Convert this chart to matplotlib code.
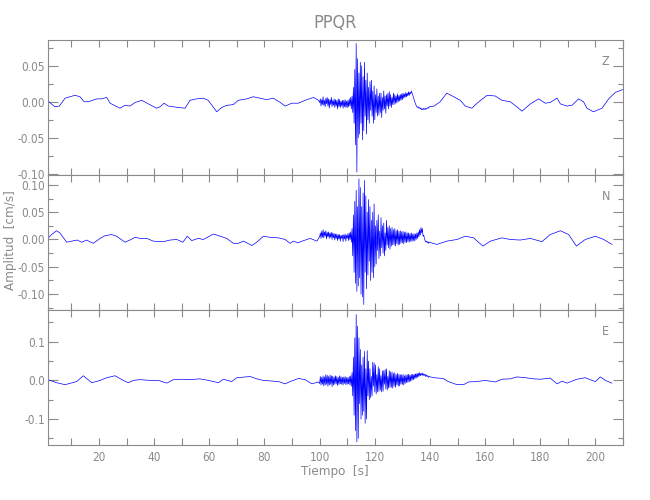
import numpy as np
import matplotlib
matplotlib.use('Agg')
import matplotlib.pyplot as plt
from matplotlib.ticker import MultipleLocator, FormatStrFormatter

plt.rcParams['font.family'] = ['DejaVu Sans']
plt.rcParams['font.stretch'] = 'condensed'
plt.rcParams['axes.unicode_minus'] = False

gray = '#8a8a8a'

# ---- Z component
t_z_pre = [1.5, 4.0, 5.6, 7.7, 11.3, 13.1, 14.6, 16.1, 19.2, 21.0, 22.8, 24.0, 27.6, 29.4, 31.2, 33.1,
           35.5, 37.9, 40.9, 42.1, 43.6, 45.1, 47.0, 48.8, 51.2, 53.0, 55.4, 57.8, 59.6, 62.7, 64.5, 66.3,
           68.7, 70.5, 73.5, 75.9, 78.4, 80.8, 83.2, 85.7, 87.5, 89.9, 92.3, 94.7, 97.8, 99.6]
z_pre = [0.001, -0.007, -0.006, 0.005, 0.009, 0.007, 0.000, 0.000, 0.004, 0.004, 0.006, -0.002, -0.009,
         -0.005, -0.006, -0.001, 0.002, -0.003, -0.009, -0.007, -0.002, -0.006, -0.007, -0.008, -0.009,
         0.002, 0.004, 0.005, 0.002, -0.014, -0.008, -0.005, -0.004, 0.002, 0.004, 0.007, 0.005, 0.003,
         0.005, -0.001, -0.006, -0.002, -0.002, 0.002, 0.006, 0.002]
z_burst = [-0.001, 0.004, -0.006, 0.003, -0.004, 0.007, -0.005, 0.002,
           -0.007, 0.005, -0.003, 0.006, -0.006, 0.004, -0.009, 0.003,
           -0.004, 0.006, -0.007, 0.002, -0.005, 0.004, -0.008, 0.003,
           -0.006, 0.002, -0.010, 0.004, -0.007, 0.003, -0.008, 0.001,
           -0.006, 0.002, -0.009, 0.002, -0.007, 0.003, -0.008, 0.001,
           -0.008, 0.002, -0.007, 0.004, -0.006, 0.006, -0.010, 0.008,
           -0.015, 0.020, -0.030, 0.045, -0.060, 0.081, -0.098, 0.060,
           -0.050, 0.040, -0.045, 0.055, -0.030, 0.050, -0.053, 0.035,
           -0.040, 0.055, -0.020, 0.030, -0.045, 0.040, -0.025, 0.020,
           -0.030, 0.028, -0.012, 0.030, -0.020, 0.015, -0.030, 0.022,
           -0.025, 0.010, -0.015, 0.018, -0.020, 0.008, -0.018, 0.012,
           -0.015, 0.012, -0.022, 0.006, -0.012, 0.015, -0.010, 0.008,
           -0.016, 0.010, -0.006, 0.012, -0.010, 0.014, -0.006, 0.010,
           -0.008, 0.006, -0.004, 0.012, -0.004, 0.010, -0.002, 0.008,
           -0.002, 0.011, 0.000, 0.009, 0.001, 0.010, 0.002, 0.011,
           0.003, 0.012, 0.005, 0.011, 0.006, 0.013, 0.007, 0.012,
           0.008, 0.014, 0.009, 0.013, 0.011, 0.015, 0.012, 0.010,
           0.006, 0.003, 0.000, -0.003, -0.005, -0.007, -0.008, -0.007,
           -0.009, -0.008, -0.010, -0.009, -0.011, -0.010, -0.011, -0.009,
           -0.010, -0.011, -0.009, -0.010, -0.009, -0.008, -0.009, -0.007]
t_z_post = [141.5, 143.7, 146.1, 148.6, 151.0, 152.8, 155.2, 157.1, 160.7, 163.7, 166.1, 169.1, 171.5,
            173.4, 176.4, 179.4, 181.8, 183.6, 186.1, 187.3, 189.7, 191.5, 193.9, 195.7, 196.9, 199.3,
            202.4, 204.8, 207.2, 210.0]
z_post = [-0.006, 0.000, 0.012, 0.007, 0.002, -0.006, -0.009, -0.002, 0.009, 0.008, 0.002, 0.000,
          -0.007, -0.013, -0.003, 0.004, -0.002, -0.001, 0.005, -0.003, -0.006, -0.005, 0.004, 0.000,
          -0.009, -0.014, -0.009, 0.004, 0.013, 0.017]

# ---- N component
t_n_pre = [1.5, 2.8, 4.6, 5.8, 8.3, 10.1, 12.1, 13.7, 15.5, 17.9, 20.4, 22.2, 24.6, 26.4, 29.4, 31.2,
           33.1, 34.9, 37.3, 39.7, 43.3, 45.8, 48.2, 50.4, 52.0, 53.6, 56.0, 57.8, 61.5, 63.9, 66.3,
           68.7, 70.5, 72.4, 75.4, 77.2, 79.6, 82.0, 85.1, 87.5, 89.3, 90.5, 92.1, 94.2, 96.6, 99.0]
n_pre = [0.002, 0.009, 0.016, 0.012, -0.005, -0.003, -0.001, -0.005, -0.001, -0.007, 0.002, 0.007,
         0.009, 0.006, -0.005, -0.001, 0.004, 0.002, 0.002, -0.003, -0.004, -0.001, 0.000, -0.005,
         0.006, -0.002, 0.002, 0.000, 0.010, 0.006, 0.002, -0.007, -0.007, -0.003, -0.011, -0.005,
         0.006, 0.004, 0.003, 0.000, -0.007, -0.003, -0.006, -0.002, 0.002, -0.003]
n_burst = [0.005, 0.012, 0.002, 0.015, 0.004, 0.018, 0.003, 0.014,
           0.006, 0.016, 0.001, 0.013, 0.005, 0.014, 0.002, 0.012,
           0.004, 0.013, 0.000, 0.012, 0.003, 0.011, -0.001, 0.010,
           0.002, 0.010, -0.002, 0.009, 0.001, 0.009, -0.003, 0.008,
           0.002, 0.008, -0.004, 0.009, 0.001, 0.010, -0.003, 0.008,
           0.002, 0.011, -0.002, 0.012, 0.000, 0.014, -0.005, 0.020,
           -0.030, 0.045, -0.060, 0.070, -0.080, 0.090, -0.095, 0.060,
           -0.085, 0.111, -0.070, 0.095, -0.100, 0.060, -0.105, 0.085,
           -0.119, 0.108, -0.060, 0.080, -0.090, 0.050, -0.065, 0.073,
           -0.040, 0.060, -0.075, 0.035, -0.060, 0.050, -0.070, 0.065,
           -0.050, 0.025, -0.045, 0.035, -0.020, 0.045, -0.035, 0.015,
           -0.030, 0.040, -0.015, 0.025, -0.025, 0.030, -0.030, 0.012,
           -0.020, 0.035, -0.010, 0.022, -0.015, 0.025, -0.018, 0.020,
           -0.012, 0.022, -0.010, 0.018, -0.010, 0.020, -0.012, 0.016,
           -0.008, 0.018, -0.010, 0.015, -0.009, 0.016, -0.007, 0.014,
           -0.006, 0.015, -0.008, 0.013, -0.005, 0.014, -0.006, 0.012,
           -0.004, 0.012, -0.005, 0.011, -0.003, 0.012, -0.004, 0.010,
           -0.002, 0.011, -0.003, 0.010, 0.000, 0.012, 0.002, 0.014,
           0.005, 0.018, 0.008, 0.022, 0.012, 0.020, 0.006, 0.008,
           0.002, -0.002, -0.004, -0.003, -0.006, -0.004, -0.007, -0.005]
t_n_post = [142.5, 146.1, 149.8, 152.8, 155.8, 159.2, 161.9, 166.1, 169.1, 172.8, 176.4, 180.6, 183.6,
            187.3, 190.3, 193.1, 196.3, 200.0, 203.0, 206.0]
n_post = [-0.009, -0.003, 0.000, 0.006, 0.003, -0.012, -0.003, 0.003, 0.000, -0.001, 0.002, -0.004,
          0.009, 0.016, 0.009, -0.012, 0.000, 0.006, 0.000, -0.009]

# ---- E component
t_e_pre = [1.5, 4.6, 7.7, 11.9, 14.3, 15.7, 17.4, 20.4, 22.8, 25.8, 28.8, 30.6, 32.4, 34.9, 38.5, 41.5,
           44.6, 47.0, 50.0, 53.0, 56.6, 59.7, 63.3, 65.1, 68.1, 70.0, 74.8, 77.2, 79.6, 83.2, 85.1,
           87.5, 89.3, 92.3, 94.7, 97.2, 99.5]
e_pre = [0.002, -0.006, -0.011, -0.003, 0.012, 0.004, -0.006, 0.000, 0.007, 0.012, 0.000, -0.006,
         0.000, 0.002, 0.000, 0.000, -0.007, 0.002, 0.003, 0.002, 0.004, 0.000, -0.006, 0.003, -0.003,
         0.007, 0.010, 0.004, 0.000, -0.002, -0.003, -0.009, -0.003, 0.005, 0.002, -0.009, -0.004]
e_burst = [-0.008, 0.010, -0.012, 0.008, -0.010, 0.012, -0.014, 0.009,
           -0.012, 0.015, -0.010, 0.013, -0.015, 0.010, -0.012, 0.014,
           -0.010, 0.012, -0.016, 0.011, -0.012, 0.009, -0.010, 0.012,
           -0.009, 0.010, -0.013, 0.008, -0.011, 0.012, -0.009, 0.010,
           -0.010, 0.008, -0.012, 0.009, -0.008, 0.010, -0.011, 0.007,
           -0.010, 0.008, -0.009, 0.010, -0.012, 0.012, -0.015, 0.020,
           -0.040, 0.060, -0.090, 0.110, -0.130, 0.170, -0.159, 0.140,
           -0.150, 0.110, -0.060, 0.080, -0.100, 0.040, -0.090, 0.060,
           -0.080, 0.075, -0.111, 0.030, -0.100, 0.077, -0.040, 0.050,
           -0.050, 0.030, -0.045, 0.010, -0.040, 0.047, -0.015, 0.045,
           -0.030, 0.040, -0.035, 0.015, -0.030, 0.035, -0.028, 0.030,
           -0.025, 0.012, -0.030, 0.025, -0.028, 0.025, -0.010, 0.028,
           -0.022, 0.030, -0.025, 0.010, -0.020, 0.025, -0.018, 0.022,
           -0.018, 0.022, -0.020, 0.018, -0.015, 0.020, -0.018, 0.015,
           -0.012, 0.018, -0.015, 0.016, -0.014, 0.015, -0.010, 0.014,
           -0.010, 0.016, -0.012, 0.012, -0.008, 0.014, -0.006, 0.015,
           -0.005, 0.016, -0.004, 0.014, -0.002, 0.015, 0.000, 0.016,
           0.002, 0.016, 0.004, 0.017, 0.006, 0.018, 0.008, 0.019,
           0.010, 0.020, 0.012, 0.018, 0.014, 0.019, 0.012, 0.017,
           0.013, 0.016, 0.010, 0.014, 0.010, 0.012, 0.008, 0.010]
t_e_post = [141.2, 144.8, 146.6, 149.8, 152.2, 154.0, 157.0, 160.0, 161.9, 163.7, 166.1, 169.1, 171.5,
            174.6, 177.6, 180.0, 183.6, 186.1, 187.9, 189.7, 193.3, 196.3, 198.8, 200.0, 201.8, 203.6,
            206.0]
e_post = [0.007, 0.005, -0.003, -0.011, -0.011, -0.004, -0.003, 0.000, -0.002, -0.004, 0.003, 0.004,
          0.009, 0.007, 0.004, 0.003, 0.006, -0.009, -0.002, -0.007, 0.003, 0.007, 0.000, -0.003, 0.009,
          0.000, -0.007]

# sample times of the dense part (0.25 s)
t_burst = np.arange(100.0, 140.0, 0.25)

comps = ['Z', 'N', 'E']
traces = [(t_z_pre, z_pre, z_burst, t_z_post, z_post),
          (t_n_pre, n_pre, n_burst, t_n_post, n_post),
          (t_e_pre, e_pre, e_burst, t_e_post, e_post)]
ylims = [(-0.102, 0.086), (-0.129, 0.118), (-0.167, 0.182)]
ymaj = [0.05, 0.05, 0.1]
ymin = [0.025, 0.025, 0.05]
yfmt = ['%.2f', '%.2f', '%.1f']

fig = plt.figure(figsize=(6.5, 5), dpi=100)
left, right = 48/650., 623/650.
tops = [40, 175, 310]
h = 135

for ii in range(3):
    ax = fig.add_axes([left, 1 - (tops[ii] + h)/500., right - left, h/500.])
    tp, yp, yb, tq, yq = traces[ii]
    t = np.concatenate([tp, t_burst, tq])
    y = np.concatenate([yp, yb, yq])
    ax.plot(t, y, color='blue', lw=0.5)
    ax.set_xlim(1.5, 210)
    ax.set_ylim(ylims[ii])
    ax.xaxis.set_major_locator(MultipleLocator(20))
    ax.xaxis.set_minor_locator(MultipleLocator(10))
    ax.yaxis.set_major_locator(MultipleLocator(ymaj[ii]))
    ax.yaxis.set_minor_locator(MultipleLocator(ymin[ii]))
    ax.yaxis.set_major_formatter(FormatStrFormatter(yfmt[ii]))
    ax.tick_params(which='both', direction='in', top=True, right=True, colors=gray,
                   labelsize=8.5, labelcolor=gray, width=0.8, pad=2)
    ax.tick_params(axis='y', which='major', length=7)
    ax.tick_params(axis='y', which='minor', length=3.5)
    ax.tick_params(axis='x', which='both', length=5)
    ax.tick_params(axis='x', which='major', pad=4)
    for s in ax.spines.values():
        s.set_color(gray)
        s.set_linewidth(0.8)
    if ii < 2:
        ax.tick_params(axis='x', labelbottom=False)
    ax.text(0.97, 0.84, comps[ii], transform=ax.transAxes, color=gray, fontsize=9,
            ha='center', va='center')

fig.text(335/650., 1 - 23/500., 'PPQR', color=gray, fontsize=13, ha='center', va='center')
fig.text(335/650., 1 - 471/500., 'Tiempo  [s]', color=gray, fontsize=9.5, ha='center', va='center')
fig.text(11/650., 1 - 240/500., 'Amplitud  [cm/s]', color=gray, fontsize=9.5, ha='center',
         va='center', rotation=90)

fig.savefig('out.png', dpi=100)
